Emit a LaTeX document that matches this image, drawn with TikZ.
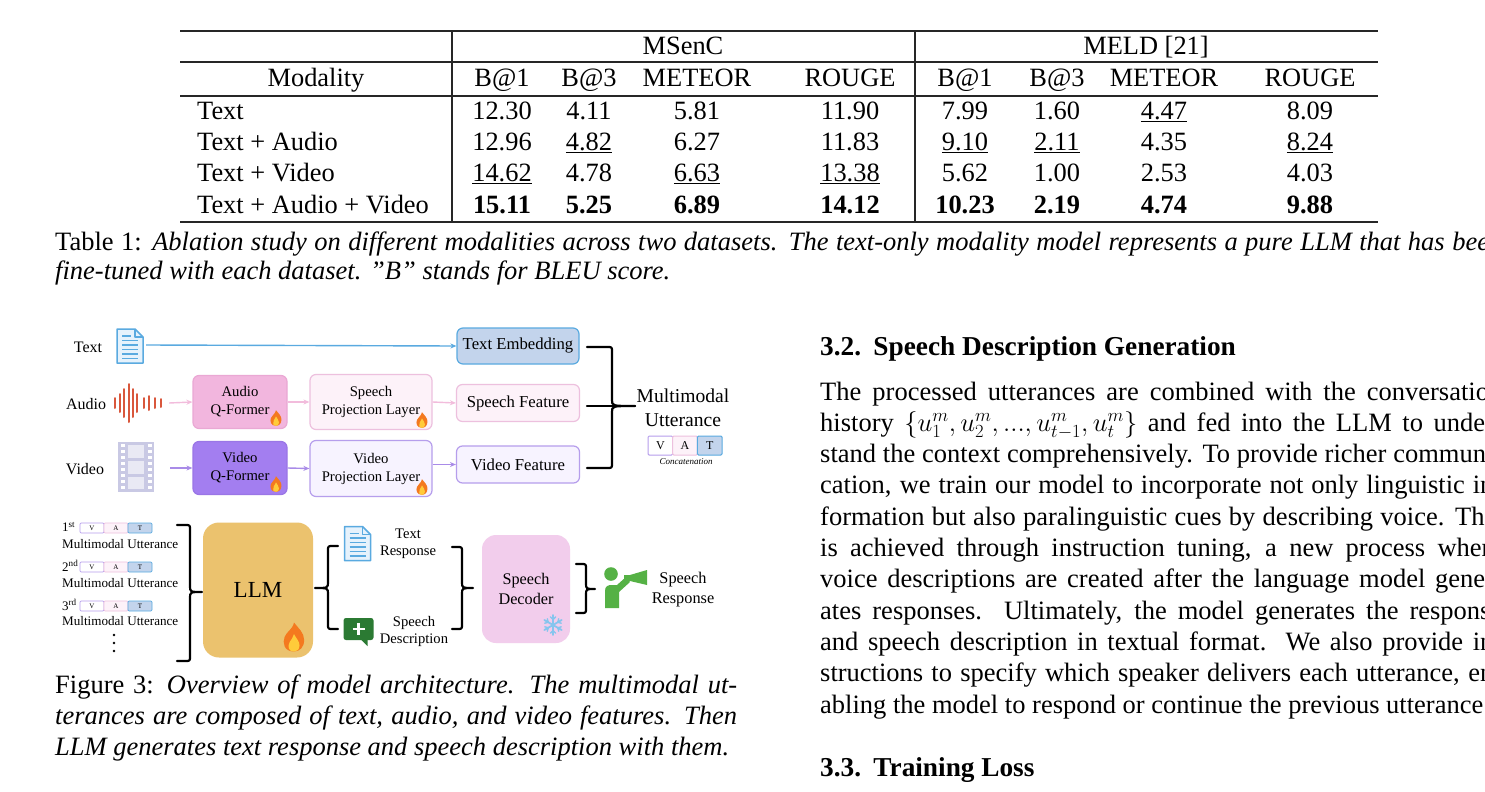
\documentclass[tikz,border=0pt]{standalone}
\usepackage{fix-cm}
\usepackage{fontspec}
\setmainfont{Liberation Serif}
\usetikzlibrary{arrows.meta,calc}

\newcommand\setfs[2]{\fontsize{#1}{#2}\selectfont}
\newcommand\uln[1]{\underline{#1}}

\definecolor{tblue}{HTML}{5AAAE0}
\definecolor{tbluefill}{HTML}{C3D4EC}
\definecolor{apink}{HTML}{F2B6DE}
\definecolor{apinkd}{HTML}{EAA8D4}
\definecolor{lpinkfill}{HTML}{FDF2F9}
\definecolor{lpinkd}{HTML}{EDC0DE}
\definecolor{parrow}{HTML}{F2BCDC}
\definecolor{vpurple}{HTML}{A37EF0}
\definecolor{vpurpled}{HTML}{9A76E6}
\definecolor{lpurfill}{HTML}{F7F3FF}
\definecolor{lpurd}{HTML}{B69EEC}
\definecolor{varrow}{HTML}{A98BE8}
\definecolor{llmfill}{HTML}{EBC26E}
\definecolor{decfill}{HTML}{F2CDEC}
\definecolor{wavered}{HTML}{D9573C}
\definecolor{filmc}{HTML}{C9C9E4}
\definecolor{bubg}{HTML}{2B7A33}
\definecolor{spkg}{HTML}{55B145}
\definecolor{flameo}{HTML}{F4791F}
\definecolor{flamey}{HTML}{FFCB3A}
\definecolor{snowb}{HTML}{86C5EE}
\definecolor{docfill}{HTML}{E6F2FC}

\tikzset{
  fbox/.style={rounded corners=6pt, line width=1.2pt, align=center, inner sep=0pt, font=\setfs{14.7}{18}},
  featbox/.style={rounded corners=6pt, line width=1.2pt, align=center, inner sep=0pt, font=\setfs{16.7}{19}},
  arr/.style={-{Stealth[length=6pt,width=5pt]}, line width=1.4pt},
  brc/.style={line width=2.2pt, line cap=round, line join=round},
  rule/.style={line width=1.2pt, black!85},
  tc/.style={anchor=base, inner sep=0pt, font=\setfs{26.4}{31}},
  tl/.style={anchor=base west, inner sep=0pt, font=\setfs{26.4}{31}},
  body/.style={anchor=base west, inner sep=0pt, font=\setfs{26.5}{31.3}},
  head/.style={anchor=base west, inner sep=0pt, font=\setfs{27.3}{31.3}\bfseries},
  lbl/.style={inner sep=0pt, align=center, font=\setfs{16}{19}},
  small/.style={inner sep=0pt, align=center, font=\setfs{14.6}{17.5}},
  icon/.style={inner sep=0pt, draw=none},
  vcell/.style={inner sep=0pt, rounded corners=1.2pt},
}

\newcommand\cell[4]{\node[tc] (#1) at (#2,#3) {#4};}

\newcommand\docicon[2]{\begin{scope}[shift={(#1,#2)}]
  \draw[tblue, fill=docfill, line width=1.5pt, line join=round] (-13,-17) -- (5,-17) -- (13,-9) -- (13,17) -- (-13,17) -- cycle;
  \draw[tblue, line width=1.2pt, line join=round] (5,-17) -- (5,-9) -- (13,-9);
  \draw[tblue, line width=1.6pt] (-8,-10) -- (1,-10);
  \foreach \yy in {-5.5,-1,3.5,8,12.5} \draw[tblue, line width=1.6pt] (-8,\yy) -- (8,\yy);
\end{scope}}

\newcommand\fireicon[3]{\begin{scope}[shift={(#1,#2)}, scale=#3]
  \fill[flameo] (0,10) .. controls (-7,10) and (-8,4) .. (-6.5,0) .. controls (-5,-4) and (-1,-5) .. (0,-10) .. controls (3,-6) and (7,-3) .. (7,2) .. controls (7,7) and (4,10) .. (0,10) -- cycle;
  \fill[flamey] (0,10) .. controls (-4,10) and (-4.5,6.5) .. (-3,3.5) .. controls (-2,1.5) and (-0.5,0.5) .. (0,-2) .. controls (1.5,1) and (4,3) .. (3.8,6) .. controls (3.6,9) and (2,10) .. (0,10) -- cycle;
\end{scope}}

\newcommand\snowicon[2]{\begin{scope}[shift={(#1,#2)}]
  \foreach \a in {30,90,...,330} {
    \draw[snowb, line width=1.8pt, line cap=round] (0,0) -- (\a:10);
    \draw[snowb, line width=1.4pt, line cap=round] (\a:5.5) -- ++(\a+45:3.6);
    \draw[snowb, line width=1.4pt, line cap=round] (\a:5.5) -- ++(\a-45:3.6);
  }
\end{scope}}

\newcommand\bubicon[2]{\begin{scope}[shift={(#1,#2)}]
  \fill[bubg, rounded corners=2.5pt] (-15,-13) rectangle (15,9);
  \fill[bubg] (2,8) -- (9,15) -- (9,8) -- cycle;
  \draw[white, line width=2.8pt] (-6,-2) -- (6,-2);
  \draw[white, line width=2.8pt] (0,-8) -- (0,4);
\end{scope}}

\newcommand\spkicon[2]{\begin{scope}[shift={(#1,#2)}]
  \fill[spkg] (-15,-15) circle (6.8);
  \fill[spkg, line join=round] (-21,19) -- (-21,2) .. controls (-21,-3) and (-18,-4) .. (-14,-4) -- (-9,-4) -- (0,-12) -- (4,-7) -- (-7,3) -- (-7,19) -- cycle;
  \fill[spkg] (-2,-14) -- (4,-14) -- (21,-19) -- (21,-4) -- (4,-8) -- (-2,-8) -- cycle;
\end{scope}}

% #1 prefix #2 x-left #3 y-center #4 cell width #5 height #6 font size #7 line width
\newcommand\vatbar[7]{%
  \node[vcell, draw=lpurd, fill=white, line width=#7pt, minimum width=#4pt, minimum height=#5pt, font=\setfs{#6}{#6}] (#1v) at ({#2+#4/2},#3) {V};
  \node[vcell, draw=lpinkd, fill=lpinkfill, line width=#7pt, minimum width=#4pt, minimum height=#5pt, font=\setfs{#6}{#6}] (#1a) at ({#2+1.5*#4},#3) {A};
  \node[vcell, draw=tblue, fill=tbluefill, line width=#7pt, minimum width=#4pt, minimum height=#5pt, font=\setfs{#6}{#6}] (#1t) at ({#2+2.5*#4},#3) {T};
}

% right brace: #1 arm x, #2 vertical x, #3 tip x, #4 top y, #5 mid y, #6 bottom y
\newcommand\myRB[6]{\draw[brc] (#1,#4) -- (#2-5,#4) .. controls (#2,#4) .. (#2,#4+5) -- (#2,#5-6) .. controls (#2,#5) .. (#3,#5) .. controls (#2,#5) .. (#2,#5+6) -- (#2,#6-5) .. controls (#2,#6) .. (#2-5,#6) -- (#1,#6);}
\newcommand\myLB[6]{\draw[brc] (#1,#4) -- (#2+5,#4) .. controls (#2,#4) .. (#2,#4+5) -- (#2,#5-6) .. controls (#2,#5) .. (#3,#5) .. controls (#2,#5) .. (#2,#5+6) -- (#2,#6-5) .. controls (#2,#6) .. (#2+5,#6) -- (#1,#6);}

\begin{document}
\begin{tikzpicture}[x=1pt,y=-1pt]
\useasboundingbox (0,0) rectangle (1485,792);
\fill[white] (0,0) rectangle (1485,792);
\clip (0,0) rectangle (1485,792);

% ---------------- Table ----------------
\draw[rule] (180,31) -- (1378,31);
\draw[rule] (180,62) -- (1378,62);
\draw[rule] (180,96) -- (1378,96);
\draw[rule] (180,222) -- (1378,222);
\draw[rule] (452,31) -- (452,222);
\draw[rule] (915,31) -- (915,222);

\cell{hms}{683}{55}{MSenC}
\cell{hmeld}{1146}{55}{MELD [21]}
\cell{hmod}{316}{86}{Modality}
\foreach \x/\t/\n in {502/B@1/ha, 589/B@3/hb, 697/METEOR/hc, 850/ROUGE/hd, 965/B@1/he, 1057/B@3/hf, 1164/METEOR/hg, 1310/ROUGE/hh}
  \node[tc] (\n) at (\x,86) {\t};

\node[tl] (r1) at (197,119) {Text};
\node[tl] (r2) at (197,150) {Text + Audio};
\node[tl] (r3) at (197,181) {Text + Video};
\node[tl] (r4) at (197,213) {Text + Audio + Video};

\cell{r1a}{502}{119}{12.30}\cell{r1b}{589}{119}{4.11}\cell{r1c}{697}{119}{5.81}\cell{r1d}{850}{119}{11.90}
\cell{r1e}{965}{119}{7.99}\cell{r1f}{1057}{119}{1.60}\cell{r1g}{1164}{119}{\uln{4.47}}\cell{r1h}{1310}{119}{8.09}

\cell{r2a}{502}{150}{12.96}\cell{r2b}{589}{150}{\uln{4.82}}\cell{r2c}{697}{150}{6.27}\cell{r2d}{850}{150}{11.83}
\cell{r2e}{965}{150}{\uln{9.10}}\cell{r2f}{1057}{150}{\uln{2.11}}\cell{r2g}{1164}{150}{4.35}\cell{r2h}{1310}{150}{\uln{8.24}}

\cell{r3a}{502}{181}{\uln{14.62}}\cell{r3b}{589}{181}{4.78}\cell{r3c}{697}{181}{\uln{6.63}}\cell{r3d}{850}{181}{\uln{13.38}}
\cell{r3e}{965}{181}{5.62}\cell{r3f}{1057}{181}{1.00}\cell{r3g}{1164}{181}{2.53}\cell{r3h}{1310}{181}{4.03}

\cell{r4a}{502}{213}{\textbf{15.11}}\cell{r4b}{589}{213}{\textbf{5.25}}\cell{r4c}{697}{213}{\textbf{6.89}}\cell{r4d}{850}{213}{\textbf{14.12}}
\cell{r4e}{965}{213}{\textbf{10.23}}\cell{r4f}{1057}{213}{\textbf{2.19}}\cell{r4g}{1164}{213}{\textbf{4.74}}\cell{r4h}{1310}{213}{\textbf{9.88}}

% table caption
\node[body] (tcap1) at (55,250) {\makebox[1447pt][s]{Table 1: \textit{Ablation study on different modalities across two datasets. The text-only modality model represents a pure LLM that has been}}};
\node[body] (tcap2) at (55,279) {\textit{fine-tuned with each dataset. ”B” stands for BLEU score.}};

% ---------------- Figure: top ----------------
\node[lbl] (ltext) at (88,347) {Text};
\node[icon, minimum width=28pt, minimum height=35pt] (doc1) at (130,346) {};
\docicon{130}{346}
\node[featbox, draw=tblue, fill=tbluefill, minimum width=122pt, minimum height=36pt] (temb) at (518,346) {Text Embedding};
\draw[arr, tblue] (doc1.east) ++(2,-1) -- (temb.west);

\node[lbl] (laudio) at (86,404) {Audio};
\node[icon, minimum width=50pt, minimum height=40pt] (wave) at (138,403) {};
\begin{scope}[shift={(138,403)}]
  \foreach \dx/\hh in {-23/10, -18.5/18, -14/28, -9.5/38, -5.5/28, -1/18, 5.5/10, 11/14, 17/10, 23/8}
    \draw[wavered, line width=2pt, line cap=round] (\dx,-\hh/2) -- (\dx,\hh/2);
\end{scope}
\node[fbox, draw=apinkd, fill=apink, minimum width=94pt, minimum height=53pt] (aqf) at (240,402) {Audio\\Q-Former};
\fireicon{276}{418}{0.78}
\node[fbox, draw=lpinkd, fill=lpinkfill, minimum width=122pt, minimum height=55pt] (spl) at (371,402) {Speech\\Projection Layer};
\fireicon{422}{420}{0.78}
\node[featbox, draw=lpinkd, fill=lpinkfill, minimum width=123pt, minimum height=37pt] (sfeat) at (518,403) {Speech Feature};
\draw[arr, parrow] (wave.east) ++(6,0) -- (aqf.west);
\draw[arr, parrow] (aqf.east) -- (spl.west);
\draw[arr, parrow] (spl.east) -- (sfeat.west);

\node[lbl] (lvideo) at (85,469) {Video};
\node[icon, minimum width=36pt, minimum height=50pt] (film) at (136,467) {};
\begin{scope}[shift={(136,467)}]
  \fill[filmc] (-18,-25) rectangle (18,25);
  \foreach \yy in {-23,-17,-11,-5,1,7,13,19}{
    \fill[white] (-15.5,\yy) rectangle (-11.5,\yy+3.4);
    \fill[white] (11.5,\yy) rectangle (15.5,\yy+3.4);
  }
  \fill[filmc!40] (-8,-22) rectangle (8,-9);
  \fill[filmc!40] (-8,-6) rectangle (8,7);
  \fill[filmc!40] (-8,10) rectangle (8,22);
\end{scope}
\node[fbox, draw=vpurpled, fill=vpurple, minimum width=94pt, minimum height=53pt] (vqf) at (240,468) {Video\\Q-Former};
\fireicon{276}{484}{0.78}
\node[fbox, draw=lpurd, fill=lpurfill, minimum width=122pt, minimum height=56pt] (vpl) at (371,468.5) {Video\\Projection Layer};
\fireicon{422}{487}{0.78}
\node[featbox, draw=lpurd, fill=lpurfill, minimum width=123pt, minimum height=37pt] (vfeat) at (518,464.5) {Video Feature};
\draw[arr, varrow] (film.east) ++(16,1) -- (vqf.west);
\draw[arr, varrow] (vqf.east) -- (vpl.west);
\draw[arr, varrow] (vpl.east |- vfeat.west) -- (vfeat.west);

% brace to multimodal utterance
\myRB{587}{612}{635}{347}{406}{468}
\coordinate (mmtip) at (635,406);
\draw[brc] (587,406) -- (mmtip);
\node[inner sep=0pt, align=center, font=\setfs{19.6}{24}] (mmu) at (683,408) {Multimodal\\Utterance};
\vatbar{mb}{648}{445.5}{24.7}{19}{12}{1}
\node[inner sep=0pt, font=\setfs{9}{10}\itshape] (concat) at (686,462) {Concatenation};

% ---------------- Figure: bottom ----------------
\node[inner sep=0pt, anchor=west, font=\setfs{13}{15}] (o1) at (62,527) {1\textsuperscript{st}};
\vatbar{ua}{80}{528}{24}{10}{7}{0.7}
\node[inner sep=0pt, anchor=west, font=\setfs{13.1}{15}] (m1) at (62,544) {Multimodal Utterance};
\node[inner sep=0pt, anchor=west, font=\setfs{13}{15}] (o2) at (62,566) {2\textsuperscript{nd}};
\vatbar{ub}{80}{567}{24}{10}{7}{0.7}
\node[inner sep=0pt, anchor=west, font=\setfs{13.1}{15}] (m2) at (62,583) {Multimodal Utterance};
\node[inner sep=0pt, anchor=west, font=\setfs{13}{15}] (o3) at (62,605) {3\textsuperscript{rd}};
\vatbar{uc}{80}{606}{24}{10}{7}{0.7}
\node[inner sep=0pt, anchor=west, font=\setfs{13.1}{15}] (m3) at (62,621) {Multimodal Utterance};
\node[icon, minimum size=4pt] (dots) at (114,643) {};
\foreach \yy in {635,643,651} \fill (114,\yy) circle (1.3);

\myRB{177}{190}{202}{525}{592}{661}

\node[fill=llmfill, rounded corners=16pt, minimum width=110pt, minimum height=135pt, inner sep=0pt, font=\setfs{23}{26}] (llm) at (258,590) {LLM};
\fireicon{294}{637}{1.45}

\myLB{338}{328}{315}{546}{588}{629}

\node[icon, minimum width=28pt, minimum height=34pt] (doc2) at (357.5,543.5) {};
\docicon{357.5}{543.5}
\node[small] (tresp) at (408,544) {Text\\Response};
\node[icon, minimum width=30pt, minimum height=28pt] (bub) at (358.5,631) {};
\bubicon{358.5}{631}
\node[small] (sdesc) at (414,631.5) {Speech\\Description};

\myRB{452}{462}{473}{547}{588}{629}

\node[fill=decfill, rounded corners=14pt, minimum width=88pt, minimum height=108pt, inner sep=0pt, align=center, font=\setfs{16.2}{20}] (dec) at (526,589) {Speech\\Decoder};
\snowicon{553}{625}

\myRB{576}{586}{595}{564}{589}{613}

\node[icon, minimum width=42pt, minimum height=42pt] (spk) at (626,589) {};
\spkicon{626}{589}
\node[inner sep=0pt, align=center, font=\setfs{16.3}{20}] (sresp) at (683,590) {Speech\\Response};

% figure caption
\node[body] (fcap1) at (55,693) {\makebox[682pt][s]{Figure 3: \textit{Overview of model architecture. The multimodal ut-}}};
\node[body] (fcap2) at (55,724) {\makebox[682pt][s]{\textit{terances are composed of text, audio, and video features. Then}}};
\node[body] (fcap3) at (55,755) {\textit{LLM generates text response and speech description with them.}};

% ---------------- Right column ----------------
\node[head] (h32) at (820,355) {3.2.\hspace{0.45em}Speech Description Generation};
\node[body] (p1) at (820,400) {\makebox[682pt][s]{The processed utterances are combined with the conversation}};
\node[body] (p2) at (820,431.3) {\makebox[682pt][s]{history $\{u_1^m,u_2^m,...,u_{t-1}^m,u_t^m\}$ and fed into the LLM to under-}};
\node[body] (p3) at (820,462.6) {\makebox[682pt][s]{stand the context comprehensively. To provide richer communi-}};
\node[body] (p4) at (820,493.9) {\makebox[682pt][s]{cation, we train our model to incorporate not only linguistic in-}};
\node[body] (p5) at (820,525.2) {\makebox[682pt][s]{formation but also paralinguistic cues by describing voice. This}};
\node[body] (p6) at (820,556.5) {\makebox[682pt][s]{is achieved through instruction tuning, a new process where}};
\node[body] (p7) at (820,587.8) {\makebox[682pt][s]{voice descriptions are created after the language model gener-}};
\node[body] (p8) at (820,619.1) {\makebox[682pt][s]{ates responses.\ \ Ultimately, the model generates the response}};
\node[body] (p9) at (820,650.4) {\makebox[682pt][s]{and speech description in textual format.\ \ We also provide in-}};
\node[body] (p10) at (820,681.7) {\makebox[682pt][s]{structions to specify which speaker delivers each utterance, en-}};
\node[body] (p11) at (820,713) {abling the model to respond or continue the previous utterance.};
\node[head] (h33) at (820,776) {3.3.\hspace{0.45em}Training Loss};

\end{tikzpicture}
\end{document}
